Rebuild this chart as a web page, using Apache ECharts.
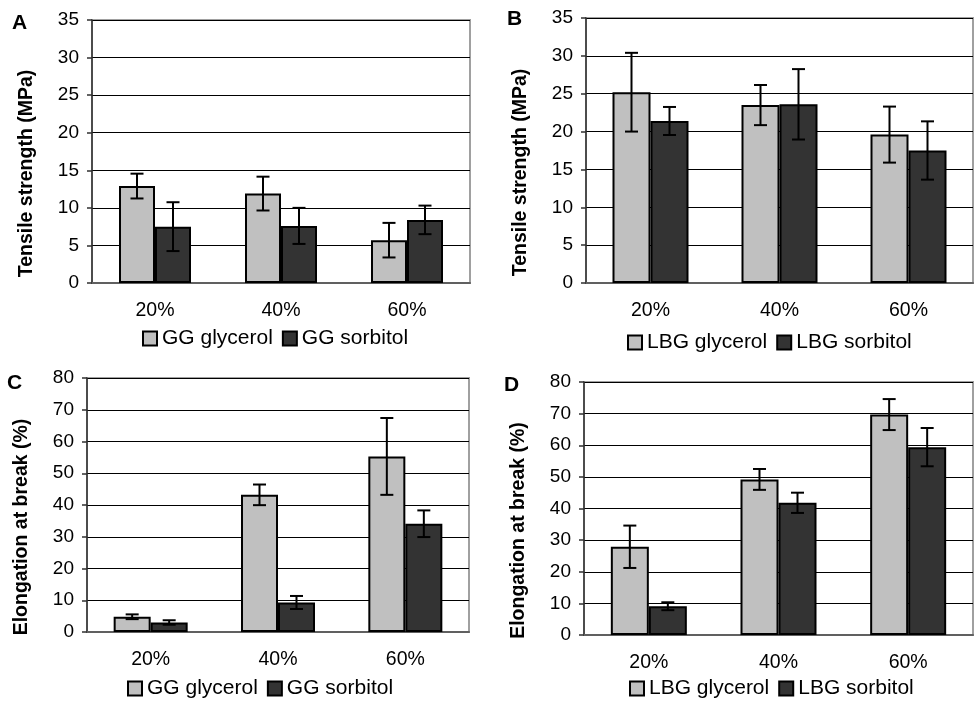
<!DOCTYPE html>
<html>
<head>
<meta charset="utf-8">
<script src="https://cdn.jsdelivr.net/npm/echarts@6/dist/echarts.min.js"></script>
<style>
  html, body { margin: 0; padding: 0; background: #fff; }
  #chart { width: 974px; height: 705px; }
</style>
</head>
<body>
<div id="chart"></div>
<script>
const categories = ['20%', '40%', '60%'];

// tensile strength (MPa), mean and standard deviation
const ggGlycerolTS = [12.9, 11.9, 5.7];
const ggGlycerolTSErr = [1.65, 2.25, 2.3];
const ggSorbitolTS = [7.5, 7.6, 8.4];
const ggSorbitolTSErr = [3.25, 2.4, 1.9];
const lbgGlycerolTS = [25.2, 23.5, 19.6];
const lbgGlycerolTSErr = [5.2, 2.65, 3.7];
const lbgSorbitolTS = [21.4, 23.6, 17.5];
const lbgSorbitolTSErr = [1.85, 4.65, 3.85];

// elongation at break (%), mean and standard deviation
const ggGlycerolEB = [4.8, 43.2, 55.3];
const ggGlycerolEBErr = [0.75, 3.25, 12.1];
const ggSorbitolEB = [3.0, 9.3, 34.1];
const ggSorbitolEBErr = [0.7, 2.05, 4.2];
const lbgGlycerolEB = [27.9, 49.2, 69.7];
const lbgGlycerolEBErr = [6.7, 3.3, 4.9];
const lbgSorbitolEB = [9.1, 41.8, 59.4];
const lbgSorbitolEBErr = [1.25, 3.2, 6.05];

const tsTicks = { min: 0, max: 35, interval: 5 };
const ebTicks = { min: 0, max: 80, interval: 10 };

const FONT = '"Liberation Sans", Arial, sans-serif';
const LIGHT = '#c0c0c0';
const DARK = '#333333';

const panels = [
  {
    letter: 'A', grid: { left: 92, top: 20, width: 378, height: 263 },
    ticks: tsTicks, title: 'Tensile strength (MPa)', barWidth: 36,
    names: ['GG glycerol', 'GG sorbitol'],
    values: [ggGlycerolTS, ggSorbitolTS], errors: [ggGlycerolTSErr, ggSorbitolTSErr],
    letterPos: { left: 12, top: 13 }, legendPos: { left: 142, top: 328 },
  },
  {
    letter: 'B', grid: { left: 586, top: 18, width: 387, height: 265 },
    ticks: tsTicks, title: 'Tensile strength (MPa)', barWidth: 38,
    names: ['LBG glycerol', 'LBG sorbitol'],
    values: [lbgGlycerolTS, lbgSorbitolTS], errors: [lbgGlycerolTSErr, lbgSorbitolTSErr],
    letterPos: { left: 507, top: 9 }, legendPos: { left: 627, top: 332 },
  },
  {
    letter: 'C', grid: { left: 87, top: 378, width: 382, height: 254 },
    ticks: ebTicks, title: 'Elongation at break (%)', barWidth: 37,
    names: ['GG glycerol', 'GG sorbitol'],
    values: [ggGlycerolEB, ggSorbitolEB], errors: [ggGlycerolEBErr, ggSorbitolEBErr],
    letterPos: { left: 7, top: 373 }, legendPos: { left: 127, top: 678 },
  },
  {
    letter: 'D', grid: { left: 584, top: 382, width: 389, height: 253 },
    ticks: ebTicks, title: 'Elongation at break (%)', barWidth: 38,
    names: ['LBG glycerol', 'LBG sorbitol'],
    values: [lbgGlycerolEB, lbgSorbitolEB], errors: [lbgGlycerolEBErr, lbgSorbitolEBErr],
    letterPos: { left: 504, top: 375 }, legendPos: { left: 629, top: 678 },
  },
];

// whiskers drawn on top of each bar, shifted to the bar's own slot
const errorBar = (offset) => (params, api) => {
  const idx = api.value(0);
  const mean = api.value(1);
  const sd = api.value(2);
  const hi = api.coord([idx, mean + sd]);
  const lo = api.coord([idx, mean - sd]);
  const x = hi[0] + offset;
  const cap = 6.5;
  const style = { stroke: '#000', lineWidth: 2 };
  return {
    type: 'group',
    children: [
      { type: 'line', shape: { x1: x, y1: hi[1], x2: x, y2: lo[1] }, style },
      { type: 'line', shape: { x1: x - cap, y1: hi[1], x2: x + cap, y2: hi[1] }, style },
      { type: 'line', shape: { x1: x - cap, y1: lo[1], x2: x + cap, y2: lo[1] }, style },
    ],
  };
};

const grid = [];
const xAxis = [];
const yAxis = [];
const series = [];
const legend = [];
const title = [];

panels.forEach((p, i) => {
  grid.push({
    ...p.grid,
    show: true,
    borderColor: '#a0a0a0',
    borderWidth: 2,
    backgroundColor: '#fff',
  });
  xAxis.push({
    type: 'category',
    gridIndex: i,
    data: categories,
    axisLine: { lineStyle: { color: '#606060', width: 2 } },
    axisTick: { length: 5, lineStyle: { color: '#404040', width: 1.5 } },
    axisLabel: { color: '#000', fontSize: 19.5, fontFamily: FONT, margin: 18 },
  });
  yAxis.push({
    type: 'value',
    gridIndex: i,
    ...p.ticks,
    name: p.title,
    nameLocation: 'middle',
    nameGap: 55,
    nameRotate: 90,
    nameTextStyle: {
      color: '#000', fontSize: 19.5, fontWeight: 'bold', fontFamily: FONT,
      padding: [0, 44, 0, 0],
    },
    axisLine: { show: true, lineStyle: { color: '#303030', width: 1.5 } },
    axisTick: { show: true, length: 5, lineStyle: { color: '#303030', width: 1.5 } },
    axisLabel: { color: '#000', fontSize: 19, fontFamily: FONT, margin: 13 },
    splitLine: { lineStyle: { color: '#000', width: 1 } },
  });
  const colors = [LIGHT, DARK];
  p.names.forEach((name, k) => {
    series.push({
      name,
      type: 'bar',
      xAxisIndex: i,
      yAxisIndex: i,
      data: p.values[k],
      barWidth: p.barWidth,
      barGap: '0%',
      itemStyle: { color: colors[k], borderColor: '#000', borderWidth: 2 },
      silent: true,
    });
  });
  p.names.forEach((name, k) => {
    series.push({
      type: 'custom',
      xAxisIndex: i,
      yAxisIndex: i,
      z: 5,
      silent: true,
      renderItem: errorBar((k === 0 ? -1 : 1) * p.barWidth / 2),
      data: p.values[k].map((m, j) => [j, m, p.errors[k][j]]),
    });
  });
  legend.push({
    data: p.names,
    ...p.legendPos,
    padding: 0,
    orient: 'horizontal',
    icon: 'rect',
    itemWidth: 14,
    itemHeight: 14,
    itemGap: 9,
    selectedMode: false,
    textStyle: { color: '#000', fontSize: 21, fontFamily: FONT },
  });
  title.push({
    text: p.letter,
    ...p.letterPos,
    padding: 0,
    textStyle: { color: '#000', fontSize: 21, fontWeight: 'bold', fontFamily: FONT },
  });
});

const chart = echarts.init(document.getElementById('chart'));
chart.setOption({
  animation: false,
  backgroundColor: '#fff',
  title,
  legend,
  grid,
  xAxis,
  yAxis,
  series,
});
</script>
</body>
</html>
